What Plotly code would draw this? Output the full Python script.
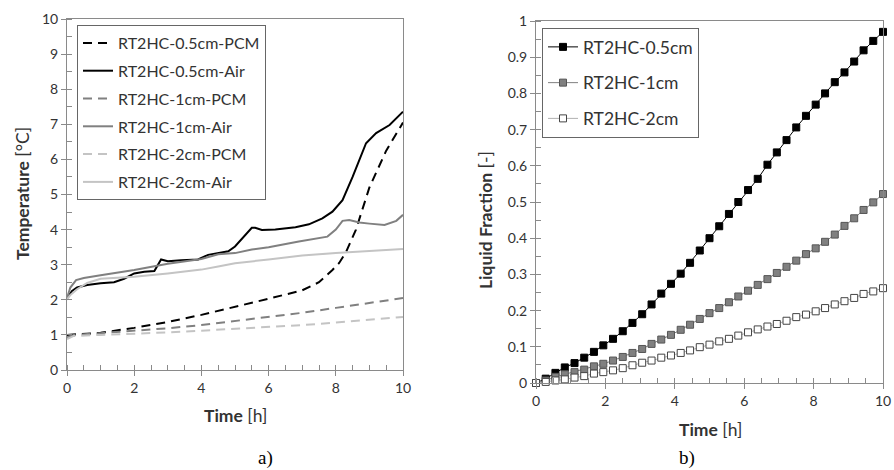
import plotly.graph_objects as go

# --- a) temperature curves ---
pcm05_t = [0, 1, 2, 3, 4, 5, 6, 7, 7.5, 7.9, 8.1, 8.3, 8.6, 9.0, 9.5, 10]
pcm05_v = [1.0, 1.06, 1.2, 1.37, 1.57, 1.79, 2.03, 2.27, 2.5, 2.85, 3.05, 3.35, 4.0, 5.2, 6.25, 7.05]

air05_t = [0, 0.15, 0.3, 0.6, 1.0, 1.4, 1.7, 2.0, 2.3, 2.6, 2.8, 3.0, 3.4, 3.9, 4.2, 4.5, 4.8,
           5.0, 5.25, 5.5, 5.6, 5.8, 6.2, 6.8, 7.2, 7.6, 7.9, 8.2, 8.5, 8.8, 8.9, 9.2, 9.6, 10]
air05_v = [2.05, 2.25, 2.35, 2.42, 2.47, 2.5, 2.6, 2.75, 2.8, 2.82, 3.15, 3.1, 3.13, 3.15, 3.28, 3.33, 3.38,
           3.52, 3.8, 4.05, 4.05, 3.99, 4.0, 4.07, 4.15, 4.32, 4.51, 4.84, 5.5, 6.22, 6.46, 6.75, 6.98, 7.36]

pcm1_t = [0, 0.2, 1, 2, 3, 4, 5, 6, 7, 8, 9, 10]
pcm1_v = [0.93, 1.0, 1.05, 1.11, 1.19, 1.28, 1.39, 1.51, 1.63, 1.77, 1.9, 2.05]

air1_t = [0, 0.1, 0.27, 0.5, 1.0, 2.0, 3.0, 4.0, 4.5, 5.0, 5.5, 6.0, 6.9, 7.5, 7.75,
          8.0, 8.2, 8.4, 8.7, 9.0, 9.45, 9.8, 10]
air1_v = [2.05, 2.35, 2.56, 2.62, 2.7, 2.85, 3.03, 3.16, 3.3, 3.33, 3.43, 3.5, 3.66, 3.75, 3.8,
          4.0, 4.25, 4.27, 4.2, 4.17, 4.13, 4.25, 4.42]

pcm2_t = [0, 0.2, 1, 2, 3, 4, 5, 6, 7, 8, 9, 10]
pcm2_v = [0.88, 0.97, 1.0, 1.03, 1.07, 1.12, 1.17, 1.22, 1.28, 1.35, 1.42, 1.51]

air2_t = [0, 0.1, 0.3, 0.6, 1.0, 2.0, 3.0, 4.0, 4.5, 5.0, 6.0, 7.0, 8.0, 9.0, 10]
air2_v = [2.0, 2.14, 2.3, 2.48, 2.6, 2.66, 2.75, 2.86, 2.95, 3.04, 3.15, 3.26, 3.33, 3.4, 3.45]

# --- b) liquid fraction ---
lf_t = [0, 0.28, 0.56, 0.83, 1.11, 1.39, 1.67, 1.94, 2.22, 2.5, 2.78, 3.06, 3.33, 3.61, 3.89,
        4.17, 4.44, 4.72, 5.0, 5.28, 5.56, 5.83, 6.11, 6.39, 6.67, 6.94, 7.22, 7.5, 7.78,
        8.06, 8.33, 8.61, 8.89, 9.17, 9.44, 9.72, 10.0]
lf05 = [0, 0.012, 0.028, 0.043, 0.055, 0.07, 0.086, 0.104, 0.122, 0.143, 0.166, 0.19, 0.217,
        0.247, 0.274, 0.302, 0.332, 0.366, 0.40, 0.433, 0.467, 0.5, 0.533, 0.564, 0.603, 0.637,
        0.671, 0.706, 0.738, 0.769, 0.8, 0.831, 0.858, 0.888, 0.919, 0.945, 0.97]
lf1 = [0, 0.007, 0.017, 0.024, 0.03, 0.037, 0.046, 0.053, 0.062, 0.072, 0.083, 0.094, 0.108,
       0.12, 0.133, 0.147, 0.161, 0.177, 0.193, 0.207, 0.223, 0.239, 0.255, 0.271, 0.287, 0.304,
       0.321, 0.338, 0.356, 0.372, 0.39, 0.41, 0.434, 0.455, 0.478, 0.499, 0.522]
lf2 = [0, 0.003, 0.007, 0.01, 0.015, 0.019, 0.026, 0.03, 0.035, 0.041, 0.049, 0.056, 0.062,
       0.07, 0.076, 0.083, 0.09, 0.099, 0.106, 0.115, 0.122, 0.131, 0.14, 0.148, 0.156, 0.163,
       0.172, 0.182, 0.189, 0.198, 0.207, 0.217, 0.226, 0.235, 0.246, 0.253, 0.262]

W, H = 894, 470


def px(x):
    return x / W


def py(y):
    return 1 - y / H


FONT = "Lato"
TXT = "#333333"
AX = "#8a8a8a"
DASH = "9px,6px"

fig = go.Figure()

left = [
    ("RT2HC-0.5cm-PCM", pcm05_t, pcm05_v, "#000000", DASH),
    ("RT2HC-0.5cm-Air", air05_t, air05_v, "#000000", "solid"),
    ("RT2HC-1cm-PCM", pcm1_t, pcm1_v, "#808080", DASH),
    ("RT2HC-1cm-Air", air1_t, air1_v, "#808080", "solid"),
    ("RT2HC-2cm-PCM", pcm2_t, pcm2_v, "#c4c4c4", DASH),
    ("RT2HC-2cm-Air", air2_t, air2_v, "#c4c4c4", "solid"),
]
for i, (name, t, v, col, dash) in enumerate(left):
    fig.add_trace(go.Scatter(
        x=t, y=v, name=name, mode="lines", line=dict(color=col, width=2, dash=dash),
        xaxis="x", yaxis="y", legend="legend", legendgroup=f"a{i}"))

right = [
    ("RT2HC-0.5cm", lf05, "#000000", "#000000", "#000000"),
    ("RT2HC-1cm", lf1, "#808080", "#555555", "#808080"),
    ("RT2HC-2cm", lf2, "#ffffff", "#444444", "#b0b0b0"),
]
for i, (name, v, fill, edge, lcol) in enumerate(right):
    fig.add_trace(go.Scatter(
        x=lf_t, y=v, name=name, mode="lines+markers", cliponaxis=False,
        line=dict(color=lcol, width=1),
        marker=dict(symbol="square", size=7, color=fill, line=dict(color=edge, width=1)),
        xaxis="x2", yaxis="y2", legend="legend2", legendgroup=f"b{i}"))


def axis(domain, rng, dtick, mdtick, anchor, fmt=None):
    d = dict(domain=domain, range=rng, dtick=dtick, tick0=0, anchor=anchor, automargin=False,
             showgrid=False, zeroline=False, showline=True, linecolor=AX, linewidth=1,
             mirror=True, ticks="outside", ticklen=5, tickcolor=AX,
             tickfont=dict(family=FONT, size=14, color=TXT),
             minor=dict(ticks="inside", ticklen=5, dtick=mdtick, tickcolor=AX))
    if fmt:
        d["tickformat"] = fmt
    return d


fig.update_layout(
    width=W, height=H, margin=dict(l=0, r=0, t=0, b=0, autoexpand=False),
    paper_bgcolor="white", plot_bgcolor="white",
    font=dict(family=FONT, color=TXT),
    xaxis=axis([px(67), px(403)], [0, 10], 2, 0.5, "y"),
    yaxis=axis([py(370), py(19)], [0, 10], 1, 0.5, "x"),
    xaxis2=axis([px(536), px(883)], [0, 10], 2, 0.5, "y2"),
    yaxis2=axis([py(383), py(21)], [0, 1], 0.1, 0.05, "x2", fmt="~g"),
    legend=dict(x=px(77), y=py(25), xanchor="left", yanchor="top",
                bordercolor="#666666", borderwidth=1, bgcolor="white",
                font=dict(family=FONT, size=16, color=TXT), tracegroupgap=4,
                itemwidth=30),
    legend2=dict(x=px(542), y=py(28), xanchor="left", yanchor="top",
                 bordercolor="#666666", borderwidth=1, bgcolor="white",
                 font=dict(family=FONT, size=17.5, color=TXT), tracegroupgap=10,
                 itemwidth=30),
    showlegend=True,
)

ann = [
    dict(text="<b>Temperature</b> [°C]", x=22, y=194, textangle=-90),
    dict(text="<b>Time</b> [h]", x=235, y=415, textangle=0),
    dict(text="<b>Liquid Fraction</b> [-]", x=485, y=220, textangle=-90),
    dict(text="<b>Time</b> [h]", x=710, y=429, textangle=0),
]
for a in ann:
    fig.add_annotation(text=a["text"], x=px(a["x"]), y=py(a["y"]),
                       xref="paper", yref="paper", showarrow=False, textangle=a["textangle"],
                       xanchor="center", yanchor="middle",
                       font=dict(family=FONT, size=17.5, color=TXT))
for lab, x, y in [("a)", 265, 458), ("b)", 687, 458)]:
    fig.add_annotation(text=lab, x=px(x), y=py(y), xref="paper", yref="paper",
                       showarrow=False, xanchor="center", yanchor="middle",
                       font=dict(family="Liberation Serif", size=19, color="#000000"))

# the page's default 8px body margin pushes the figure off the window
fig.write_html("out.html", config={"displayModeBar": False},
               post_script="document.body.style.margin='0';")
